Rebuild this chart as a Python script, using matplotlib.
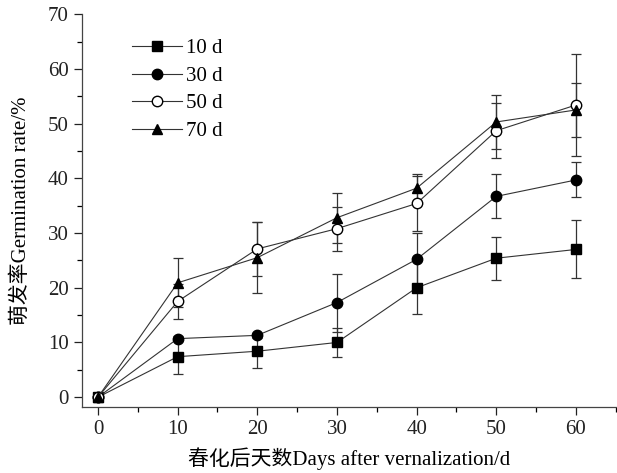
import numpy as np
import matplotlib.pyplot as plt
from matplotlib.ticker import MultipleLocator

plt.rcParams['font.family'] = ['Liberation Serif', 'Noto Sans CJK SC']

# 春化天数
days = [0, 10, 20, 30, 40, 50, 60]

# 萌发率与标准误
g10 = [0, 7.4, 8.4, 10.0, 20.0, 25.4, 27.0]
e10 = [0, 3.1, 3.0, 2.6, 4.8, 3.9, 5.3]
g30 = [0, 10.7, 11.3, 17.3, 25.2, 36.7, 39.7]
e30 = [0, 0.5, 0.5, 5.3, 4.8, 4.0, 3.2]
g50 = [0, 17.5, 27.1, 30.8, 35.4, 48.7, 53.4]
e50 = [0, 3.2, 4.9, 4.0, 5.1, 5.0, 9.3]
g70 = [0, 20.9, 25.5, 32.8, 38.2, 50.3, 52.5]
e70 = [0, 4.5, 6.5, 4.6, 2.6, 5.0, 5.0]

labels = ['10 d', '30 d', '50 d', '70 d']

fig = plt.figure(figsize=(6.17, 4.73), dpi=100)
ax = fig.add_axes([0.133, 0.1395, 0.865, 0.8305])

styles = [
    (g10, e10, 's', 'black', 6.5),
    (g30, e30, 'o', 'black', 7.5),
    (g50, e50, 'o', 'white', 7.5),
    (g70, e70, '^', 'black', 7.5),
]
handles = []
for (g, e, m, fc, ms), lab in zip(styles, labels):
    c = ax.errorbar(days, g, yerr=e, fmt='-', marker=m, color='#333333', lw=0.8,
                    mfc=fc, mec='black', ms=ms, ecolor='#333333', elinewidth=0.9,
                    capsize=3.5, capthick=0.9, label=lab)
    handles.append(c.lines[0])

ax.set_xlim(-2, 65)
ax.set_ylim(-1.8, 70)
ax.xaxis.set_major_locator(MultipleLocator(10))
ax.xaxis.set_minor_locator(MultipleLocator(5))
ax.yaxis.set_major_locator(MultipleLocator(10))
ax.yaxis.set_minor_locator(MultipleLocator(5))
ax.tick_params(which='major', direction='out', length=6, width=0.9, labelsize=15, colors='#222222')
ax.tick_params(which='minor', direction='out', length=3.5, width=0.9)
ax.spines['top'].set_visible(False)
ax.spines['right'].set_visible(False)
for s in ['left', 'bottom']:
    ax.spines[s].set_color('#444444')
    ax.spines[s].set_linewidth(0.9)

ax.set_xlabel('春化后天数Days after vernalization/d', fontsize=15, labelpad=6)
ax.set_ylabel('萌发率Germination rate/%', fontsize=15, labelpad=12)

leg = ax.legend(handles, labels, loc='upper left', bbox_to_anchor=(0.058, 0.985), frameon=False,
                fontsize=15, handlelength=2.4, handletextpad=0.2, labelspacing=0.38)

fig.savefig('out.png', dpi=100)
